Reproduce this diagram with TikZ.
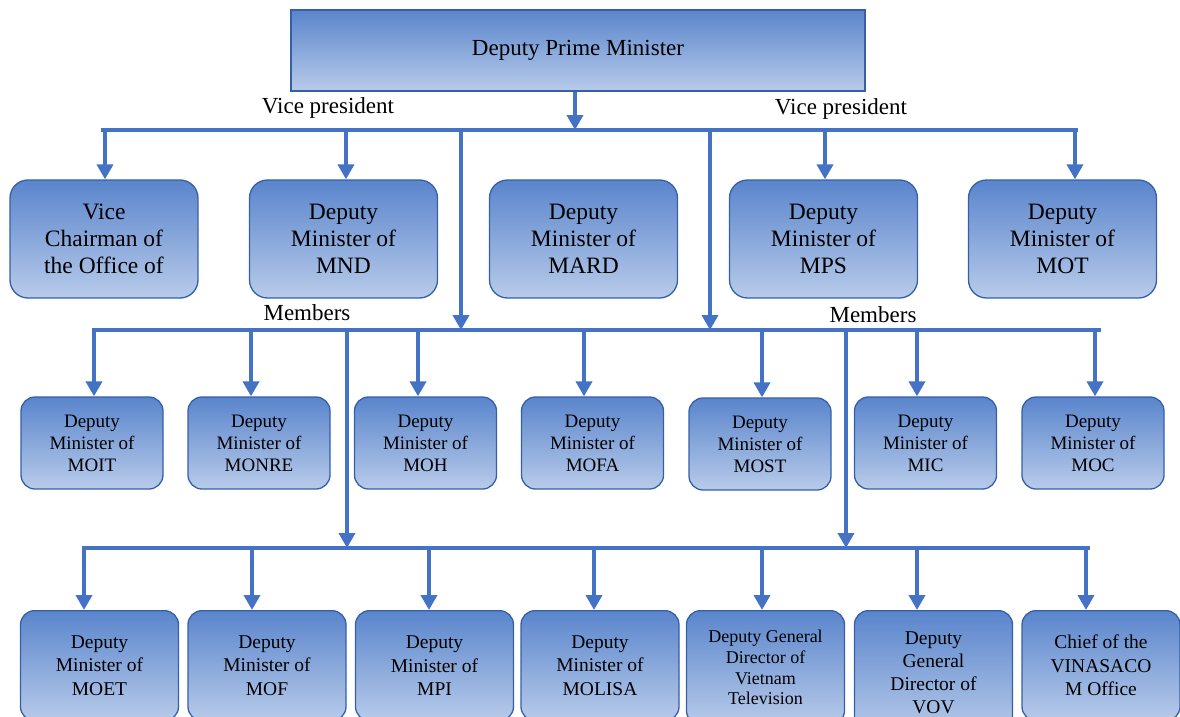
\documentclass[tikz,border=0pt]{standalone}
\usepackage{fontspec}
\setmainfont{Liberation Serif}
\usetikzlibrary{arrows.meta}
\definecolor{lineblue}{HTML}{4472C4}
\definecolor{boxtop}{HTML}{5A85CC}
\definecolor{boxbot}{HTML}{B8CBEA}
\definecolor{boxedge}{HTML}{3560A8}
\begin{document}
\begin{tikzpicture}[x=1pt,y=-1pt,
  conn/.style={draw=lineblue,line width=4pt},
  arr/.style={conn,-{Triangle[width=16pt,length=15pt]}},
  bus/.style={conn,line cap=rect},
  basebox/.style={draw=boxedge,line width=1.3pt,top color=boxtop,bottom color=boxbot,align=center,inner sep=0pt,text=black},
  topbox/.style={basebox,line width=1.8pt,minimum width=574pt,minimum height=81pt,font=\fontsize{23}{27}\selectfont},
  rowone/.style={basebox,rounded corners=18pt,minimum width=188pt,minimum height=118pt,font=\fontsize{23.5}{27}\selectfont},
  rowtwo/.style={basebox,rounded corners=14pt,minimum width=142pt,minimum height=92pt,font=\fontsize{19}{22}\selectfont},
  rowthree/.style={basebox,rounded corners=14pt,anchor=north,minimum width=158pt,minimum height=110pt,font=\fontsize{19.5}{23.5}\selectfont},
  lbl/.style={inner sep=0pt,font=\fontsize{23}{27}\selectfont}
]
\useasboundingbox (0,0) rectangle (1180,717);
\clip (0,0) rectangle (1180,717);

% top
\node[topbox] (dpm) at (578,50.5) {Deputy Prime Minister};

% row 1
\node[rowone] (r1a) at (104,239) {Vice\\Chairman of\\the Office of};
\node[rowone] (r1b) at (343.5,239) {Deputy\\Minister of\\MND};
\node[rowone] (r1c) at (583.5,239) {Deputy\\Minister of\\MARD};
\node[rowone] (r1d) at (823.5,239) {Deputy\\Minister of\\MPS};
\node[rowone] (r1e) at (1062.5,239) {Deputy\\Minister of\\MOT};

% row 2
\node[rowtwo] (r2a) at (92,443) {Deputy\\Minister of\\MOIT};
\node[rowtwo] (r2b) at (259,443) {Deputy\\Minister of\\MONRE};
\node[rowtwo] (r2c) at (425.5,443) {Deputy\\Minister of\\MOH};
\node[rowtwo] (r2d) at (592.5,443) {Deputy\\Minister of\\MOFA};
\node[rowtwo] (r2e) at (760,444) {Deputy\\Minister of\\MOST};
\node[rowtwo] (r2f) at (925.5,443) {Deputy\\Minister of\\MIC};
\node[rowtwo] (r2g) at (1093,443) {Deputy\\Minister of\\MOC};

% row 3
\node[rowthree] (r3a) at (99.5,610) {Deputy\\Minister of\\MOET};
\node[rowthree] (r3b) at (267,610) {Deputy\\Minister of\\MOF};
\node[rowthree] (r3c) at (434.5,610) {Deputy\\Minister of\\MPI};
\node[rowthree] (r3d) at (600,610) {Deputy\\Minister of\\MOLISA};
\node[rowthree,minimum height=114pt,font=\fontsize{18}{20.7}\selectfont] (r3e) at (765.5,610) {Deputy General\\Director of\\Vietnam\\Television};
\node[rowthree,minimum height=124pt,font=\fontsize{19.5}{23}\selectfont] (r3f) at (933.5,610) {Deputy\\General\\Director of\\VOV};
\node[rowthree] (r3g) at (1101,610) {Chief of the\\VINASACO\\M Office};

% labels
\node[lbl] (vp1) at (328,108) {Vice president};
\node[lbl] (vp2) at (841,109) {Vice president};
\node[lbl] (mb1) at (307,313) {Members};
\node[lbl] (mb2) at (873,315) {Members};

% bus coordinates
\coordinate (b1l) at (103,130);
\coordinate (b1r) at (1076,130);
\coordinate (b2l) at (94,330);
\coordinate (b2r) at (1099,330);
\coordinate (b3l) at (84,548);
\coordinate (b3r) at (1088,548);

\draw[bus] (b1l) -- (b1r);
\draw[bus] (b2l) -- (b2r);
\draw[bus] (b3l) -- (b3r);

% top arrow
\coordinate (j0) at (575,130);
\draw[arr] (dpm.south -| j0) -- (j0);

% row 1 arrows
\foreach \x/\n in {105/r1a,346/r1b,825/r1d,1075/r1e}{
  \coordinate (t) at (\x,130);
  \draw[arr] (t) -- (t |- \n.north);
}
% drops to bus 2
\foreach \x in {461,710}{
  \coordinate (t) at (\x,130);
  \draw[arr] (t) -- (t |- b2l);
}
% row 2 arrows
\foreach \x/\n in {94/r2a,251/r2b,418/r2c,584/r2d,762/r2e,917/r2f,1095/r2g}{
  \coordinate (t) at (\x,330);
  \draw[arr] (t) -- (t |- \n.north);
}
% drops to bus 3
\foreach \x in {347,846}{
  \coordinate (t) at (\x,330);
  \draw[arr] (t) -- (t |- b3l);
}
% row 3 arrows
\foreach \x/\n in {84/r3a,252/r3b,429/r3c,594/r3d,762/r3e,917/r3f,1086/r3g}{
  \coordinate (t) at (\x,548);
  \draw[arr] (t) -- (t |- \n.north);
}
\end{tikzpicture}
\end{document}
